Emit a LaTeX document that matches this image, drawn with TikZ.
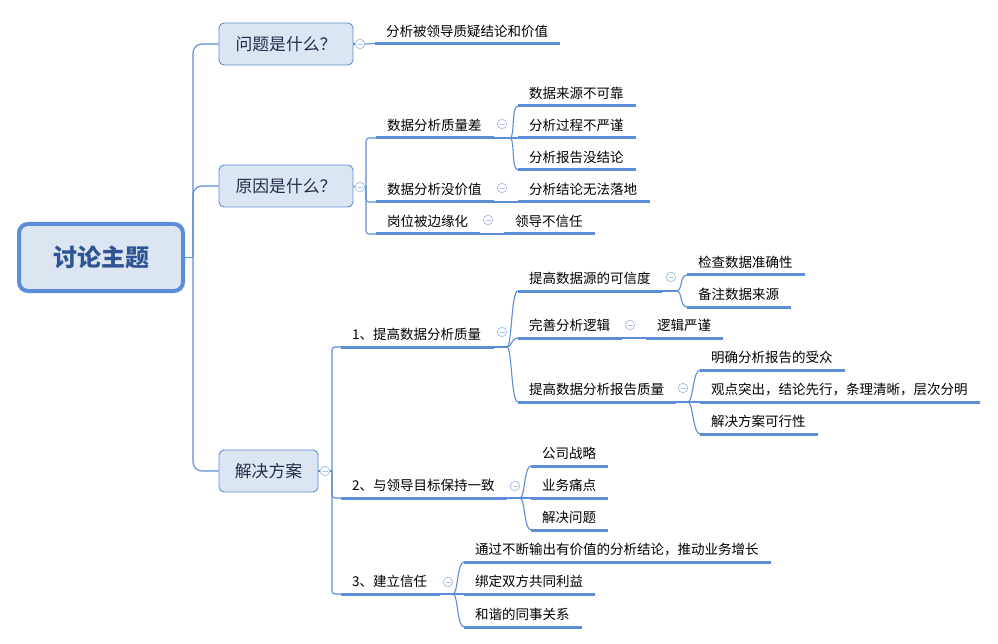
\documentclass[tikz,border=0pt]{standalone}
\usepackage{fontspec}
\setmainfont{Noto Sans CJK SC}
\usetikzlibrary{calc}
\definecolor{lineblue}{HTML}{5B8ED6}
\definecolor{boxfill}{HTML}{DCE6F2}
\definecolor{circ}{HTML}{A9C2EA}
\definecolor{roottext}{HTML}{2E5496}
\definecolor{topictext}{HTML}{1F2D4A}
\newcommand\leaf[5]{%
  \coordinate (#1-l) at (#2,#4);
  \coordinate (#1-r) at (#3,#4);
  \draw[uline] (#1-l) -- (#1-r);
  \node[lbl] (#1) at (#2+11,#4-12.5) {#5};}
\newcommand\curv[2]{\draw[conn] (#1) .. controls +(5,0) and +(-7,0) .. (#2);}
\begin{document}
\begin{tikzpicture}[x=1pt,y=-1pt,
  conn/.style={draw=lineblue,line width=1.1pt},
  uline/.style={draw=lineblue,line width=3pt},
  lbl/.style={anchor=west,inner sep=0pt,font=\fontsize{13.5}{15}\selectfont,text=black},
  topic/.style={draw=lineblue,line width=0.9pt,fill=boxfill,rounded corners=5pt,minimum height=42pt,inner sep=0pt,text=topictext,font=\fontsize{16.8}{19}\selectfont},
  collapse/.style={circle,draw=circ,fill=white,line width=0.8pt,minimum size=9.5pt,inner sep=0pt,
    path picture={\draw[circ,line width=0.8pt] ($(path picture bounding box.center)+(-2.5,0)$) -- ($(path picture bounding box.center)+(2.5,0)$);}}]
\useasboundingbox (0,0) rectangle (998,644);
\fill[white] (0,0) rectangle (998,644);

% root and topics
\node[draw=lineblue,line width=4pt,fill=boxfill,rounded corners=9pt,minimum width=164pt,minimum height=67pt,
  text=roottext,font=\fontsize{24}{27}\selectfont\bfseries] (root) at (101,257.5) {讨论主题};
\node[topic,minimum width=134pt] (q1) at (286,44) {问题是什么？};
\node[topic,minimum width=134pt] (q2) at (286,186) {原因是什么？};
\node[topic,minimum width=99pt] (q3) at (268.5,471) {解决方案};

\coordinate (t) at (193,257.5);
\draw[conn] (root.east) -- (t);
\draw[conn,rounded corners=9pt] (t) |- (q1.west);
\draw[conn,rounded corners=9pt] (t) |- (q2.west);
\draw[conn,rounded corners=9pt] (t) |- (q3.west);

% topic 1
\node[collapse] (c1) at (360,44) {};
\leaf{P1}{375}{560}{43.5}{分析被领导质疑结论和价值}
\draw[conn] (q1.east) -- (c1.west);
\draw[conn] (c1.east) -- (P1-l);

% topic 2
\node[collapse] (c2) at (360,187) {};
\coordinate (s2) at (366,187);
\draw[conn] (q2.east) -- (c2.west);
\draw[conn] (c2.east) -- (s2);
\leaf{A1}{376}{494}{138}{数据分析质量差}
\leaf{A2}{376}{494}{202}{数据分析没价值}
\leaf{A3}{376}{480}{234}{岗位被边缘化}
\draw[conn,rounded corners=3pt] (s2) |- (A1-l);
\draw[conn,rounded corners=3pt] (s2) |- (A2-l);
\draw[conn,rounded corners=3pt] (s2) |- (A3-l);

\leaf{A11}{518}{636}{106}{数据来源不可靠}
\leaf{A12}{518}{636}{138}{分析过程不严谨}
\leaf{A13}{518}{636}{170}{分析报告没结论}
\coordinate (jA1) at (510,138);
\draw[conn] (A1-r) -- (jA1);
\curv{jA1}{A11-l}
\draw[conn] (jA1) -- (A12-l);
\curv{jA1}{A13-l}
\node[collapse] (cA1) at (502,124) {};

\leaf{A21}{518}{650}{202}{分析结论无法落地}
\draw[conn] (A2-r) -- (A21-l);
\node[collapse] (cA2) at (502,188) {};

\leaf{A31}{504}{595}{234}{领导不信任}
\draw[conn] (A3-r) -- (A31-l);
\node[collapse] (cA3) at (488,220) {};

% topic 3
\node[collapse] (c3) at (325,471) {};
\coordinate (s3) at (332,471);
\draw[conn] (q3.east) -- (c3.west);
\draw[conn] (c3.east) -- (s3);
\leaf{B1}{341}{494}{347}{1、提高数据分析质量}
\leaf{B2}{341}{507}{498}{2、与领导目标保持一致}
\leaf{B3}{341}{440}{594}{3、建立信任}
\draw[conn,rounded corners=3pt] (s3) |- (B1-l);
\draw[conn,rounded corners=3pt] (s3) |- (B2-l);
\draw[conn,rounded corners=3pt] (s3) |- (B3-l);

% B1
\leaf{B11}{518}{662}{291}{提高数据源的可信度}
\leaf{B12}{518}{622}{338}{完善分析逻辑}
\leaf{B13}{518}{676}{402}{提高数据分析报告质量}
\coordinate (jB1) at (507,347);
\draw[conn] (B1-r) -- (jB1);
\curv{jB1}{B11-l}
\curv{jB1}{B12-l}
\curv{jB1}{B13-l}
\node[collapse] (cB1) at (502,332) {};

\leaf{B111}{687}{805}{275}{检查数据准确性}
\leaf{B112}{687}{791}{307}{备注数据来源}
\coordinate (jB11) at (677,291);
\draw[conn] (B11-r) -- (jB11);
\curv{jB11}{B111-l}
\curv{jB11}{B112-l}
\node[collapse] (cB11) at (671,277) {};

\leaf{B121}{646}{723}{338}{逻辑严谨}
\draw[conn] (B12-r) -- (B121-l);
\node[collapse] (cB12) at (630,325) {};

\leaf{B131}{700}{845}{370}{明确分析报告的受众}
\leaf{B132}{700}{980}{402}{观点突出，结论先行，条理清晰，层次分明}
\leaf{B133}{700}{818}{434}{解决方案可行性}
\coordinate (jB13) at (688,402);
\draw[conn] (B13-r) -- (jB13);
\curv{jB13}{B131-l}
\draw[conn] (jB13) -- (B132-l);
\curv{jB13}{B133-l}
\node[collapse] (cB13) at (683,388) {};

% B2
\leaf{B21}{531}{608}{466}{公司战略}
\leaf{B22}{531}{608}{498}{业务痛点}
\leaf{B23}{531}{608}{530}{解决问题}
\coordinate (jB2) at (520,498);
\draw[conn] (B2-r) -- (jB2);
\curv{jB2}{B21-l}
\draw[conn] (jB2) -- (B22-l);
\curv{jB2}{B23-l}
\node[collapse] (cB2) at (515,486) {};

% B3
\leaf{B31}{464}{771}{562}{通过不断输出有价值的分析结论，推动业务增长}
\leaf{B32}{464}{595}{594}{绑定双方共同利益}
\leaf{B33}{464}{582}{627}{和谐的同事关系}
\coordinate (jB3) at (453,594);
\draw[conn] (B3-r) -- (jB3);
\curv{jB3}{B31-l}
\draw[conn] (jB3) -- (B32-l);
\curv{jB3}{B33-l}
\node[collapse] (cB3) at (448,582) {};
\end{tikzpicture}
\end{document}
